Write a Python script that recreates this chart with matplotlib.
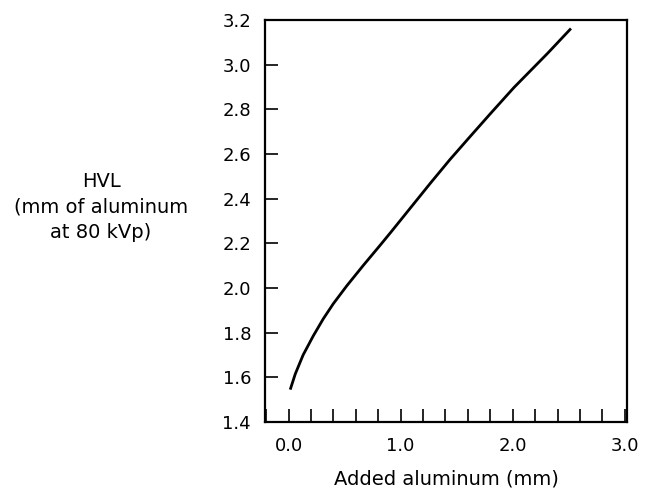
import matplotlib
matplotlib.use("Agg")
import matplotlib.pyplot as plt
from matplotlib.ticker import MultipleLocator

# curve
added_al = [0.015, 0.06, 0.13, 0.22, 0.31, 0.40, 0.52, 0.67, 0.82, 0.91,
            1.09, 1.27, 1.44, 1.62, 1.80, 2.01, 2.31, 2.52]
hvl = [1.545, 1.615, 1.70, 1.785, 1.862, 1.93, 2.01, 2.103, 2.193, 2.248,
       2.36, 2.472, 2.575, 2.678, 2.78, 2.897, 3.05, 3.162]

x_ticks = [0.0, 1.0, 2.0, 3.0]
x_tick_labels = ["0.0", "1.0", "2.0", "3.0"]
y_ticks = [1.4, 1.6, 1.8, 2.0, 2.2, 2.4, 2.6, 2.8, 3.0, 3.2]
y_tick_labels = ["1.4", "1.6", "1.8", "2.0", "2.2", "2.4", "2.6", "2.8", "3.0", "3.2"]

fig = plt.figure(figsize=(6.51, 4.88), dpi=100)
ax = fig.add_axes([265 / 651, 1 - 422 / 488, 362 / 651, 402 / 488])

ax.plot(added_al, hvl, color="black", linewidth=2.0, solid_capstyle="butt",
        solid_joinstyle="round")

ax.set_xlim(-0.21, 3.02)
ax.set_ylim(1.4, 3.2)

ax.set_xticks(x_ticks)
ax.set_xticklabels(x_tick_labels)
ax.xaxis.set_minor_locator(MultipleLocator(0.2))
ax.set_yticks(y_ticks)
ax.set_yticklabels(y_tick_labels)

ax.tick_params(axis="x", which="both", direction="in", length=9.5, width=1.2,
               pad=11, labelsize=13, top=False)
ax.tick_params(axis="y", which="both", direction="in", length=9.5, width=1.2,
               pad=10, labelsize=13, right=False)

for s in ax.spines.values():
    s.set_linewidth(1.6)

fig.text(446 / 651, 1 - 479 / 488, "Added aluminum (mm)", ha="center", va="center",
         fontsize=14)
fig.text(101 / 651, 1 - 207 / 488, "HVL\n(mm of aluminum\nat 80 kVp)", ha="center",
         va="center", multialignment="center", fontsize=14, linespacing=1.45)

fig.savefig("out.png", dpi=100)
